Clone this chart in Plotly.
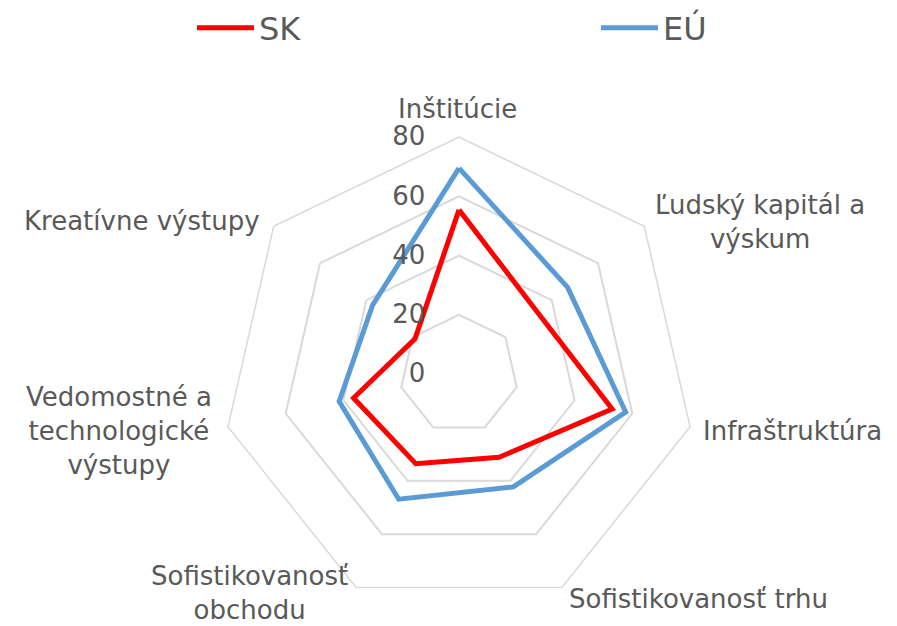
import plotly.graph_objects as go

categories = ["Inštitúcie", "Ľudský kapitál a výskum", "Infraštruktúra",
              "Sofistikovanosť trhu", "Sofistikovanosť obchodu",
              "Vedomostné a technologické výstupy", "Kreatívne výstupy"]
category_labels = ["Inštitúcie", "Ľudský kapitál a<br>výskum", "Infraštruktúra",
                   "Sofistikovanosť trhu", "Sofistikovanosť<br>obchodu",
                   "Vedomostné a<br>technologické<br>výstupy", "Kreatívne výstupy"]
sk_values = [55.4, 33.7, 53.0, 31.2, 33.6, 36.5, 19.0]
eu_values = [69.5, 46.9, 57.7, 42.3, 46.9, 41.5, 37.3]
radial_ticks = [0, 20, 40, 60, 80]

W, H = 897, 626
cx, cy, R = 451, 366, 237
TXT = "#595959"
GRID = "#D9D9D9"
FONT = "DejaVu Sans"

# label anchor points (pixels from top-left, page offset compensated)
label_pos = [(449, 101), (752, 214), (784, 423), (690, 591),
             (241, 585), (111, 423), (134, 213)]

fig = go.Figure()
fig.add_trace(go.Scatterpolar(
    r=sk_values + sk_values[:1], theta=categories + categories[:1],
    mode="lines", name="SK", line=dict(color="#FF0000", width=5),
    legend="legend"))
fig.add_trace(go.Scatterpolar(
    r=eu_values + eu_values[:1], theta=categories + categories[:1],
    mode="lines", name="EÚ", line=dict(color="#5B9BD5", width=5),
    legend="legend2"))

for text, (px, py) in zip(category_labels, label_pos):
    fig.add_annotation(text=text, x=px / W, y=1 - py / H, xref="paper", yref="paper",
                       xanchor="center", yanchor="middle", align="center",
                       showarrow=False, font=dict(size=26, color=TXT, family=FONT))

fig.update_layout(
    width=W, height=H,
    margin=dict(l=0, r=0, t=0, b=0, autoexpand=False),
    paper_bgcolor="white", plot_bgcolor="white",
    font=dict(family=FONT, color=TXT, size=26),
    polar=dict(
        domain=dict(x=[(cx - R) / W, (cx + R) / W],
                    y=[(H - cy - R) / H, (H - cy + R) / H]),
        bgcolor="white",
        gridshape="linear",
        angularaxis=dict(rotation=90, direction="clockwise",
                         showgrid=False, showline=True, linecolor=GRID, linewidth=1.5,
                         ticks="", showticklabels=False),
        radialaxis=dict(range=[0, 80], tickvals=radial_ticks, angle=90,
                        side="counterclockwise", showline=False,
                        ticks="outside", ticklen=24, tickcolor="rgba(0,0,0,0)",
                        gridcolor=GRID, gridwidth=1.5,
                        tickangle=90,
                        tickfont=dict(size=26, color=TXT, family=FONT)),
    ),
    legend=dict(x=184 / W, y=1 - 20 / H, xanchor="left", yanchor="middle",
                font=dict(size=32, color=TXT, family=FONT), itemwidth=57,
                bgcolor="rgba(0,0,0,0)"),
    legend2=dict(x=588 / W, y=1 - 20 / H, xanchor="left", yanchor="middle",
                 font=dict(size=32, color=TXT, family=FONT), itemwidth=57,
                 bgcolor="rgba(0,0,0,0)"),
    showlegend=True,
)

fig.write_html("out.html")
